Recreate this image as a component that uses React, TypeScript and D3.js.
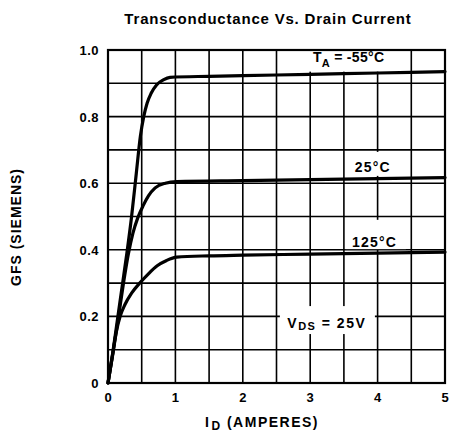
import React from "react";
import * as d3 from "d3";

// drain current (A) vs transconductance (S)
const idM55 = [0, 0.07, 0.14, 0.21, 0.28, 0.35, 0.42, 0.48, 0.53, 0.58, 0.64, 0.72, 0.82, 0.92, 1.5, 2, 3, 4, 5];
const gfsM55 = [0, 0.09, 0.19, 0.29, 0.39, 0.5, 0.63, 0.74, 0.8, 0.84, 0.87, 0.895, 0.91, 0.918, 0.921, 0.923, 0.927, 0.931, 0.935];

const id25 = [0, 0.07, 0.15, 0.23, 0.3, 0.37, 0.44, 0.52, 0.6, 0.7, 0.85, 1.02, 2, 3, 4, 5];
const gfs25 = [0, 0.085, 0.19, 0.3, 0.385, 0.45, 0.495, 0.532, 0.562, 0.586, 0.6, 0.605, 0.608, 0.611, 0.614, 0.617];

const id125 = [0, 0.06, 0.12, 0.18, 0.25, 0.35, 0.47, 0.6, 0.73, 0.87, 1.02, 1.5, 2, 3, 4, 5];
const gfs125 = [0, 0.075, 0.15, 0.2, 0.235, 0.27, 0.3, 0.328, 0.352, 0.368, 0.378, 0.382, 0.384, 0.387, 0.39, 0.393];

const xTicks = [0, 1, 2, 3, 4, 5];
const yTicks = [0, 0.2, 0.4, 0.6, 0.8, 1.0];
const yTickLabels = ["0", "0.2", "0.4", "0.6", "0.8", "1.0"];

const font = "'Liberation Sans', Arial, Helvetica, sans-serif";

export default function App() {
  const width = 451;
  const height = 436;
  const left = 108;
  const right = 445;
  const top = 50;
  const bottom = 383;

  const x = d3.scaleLinear().domain([0, 5]).range([left, right]);
  const y = d3.scaleLinear().domain([0, 1]).range([bottom, top]);

  const line = d3
    .line<[number, number]>()
    .x((d) => x(d[0]))
    .y((d) => y(d[1]))
    .curve(d3.curveMonotoneX);

  const series = [
    idM55.map((v, i) => [v, gfsM55[i]] as [number, number]),
    id25.map((v, i) => [v, gfs25[i]] as [number, number]),
    id125.map((v, i) => [v, gfs125[i]] as [number, number]),
  ];

  const vGrid = d3.range(0, 5.001, 0.5);
  const hGrid = d3.range(0, 1.0001, 0.1);

  // white boxes behind the annotations (data coords: x0, x1, y0, y1)
  const boxes = [
    [2.92, 4.38, 0.997, 0.935],
    [3.52, 4.42, 0.694, 0.622],
    [3.52, 4.42, 0.49, 0.402],
    [2.55, 3.96, 0.231, 0.147],
  ];

  return (
    <svg
      width={width}
      height={height}
      style={{ position: "absolute", left: 0, top: 0, background: "#fff" }}
      fontFamily={font}
      fontWeight="bold"
    >
      <rect width={width} height={height} fill="#fff" />

      <text x={268} y={24} textAnchor="middle" fontSize={15} letterSpacing={0.8}>
        Transconductance Vs. Drain Current
      </text>

      {vGrid.map((v) => (
        <line key={"v" + v} x1={x(v)} x2={x(v)} y1={y(0)} y2={y(1)} stroke="#000" strokeWidth={1.6} />
      ))}
      {hGrid.map((v) => (
        <line key={"h" + v} x1={x(0)} x2={x(5)} y1={y(v)} y2={y(v)} stroke="#000" strokeWidth={1.6} />
      ))}

      {boxes.map((b, i) => (
        <rect
          key={"b" + i}
          x={x(b[0])}
          y={y(b[2])}
          width={x(b[1]) - x(b[0])}
          height={y(b[3]) - y(b[2])}
          fill="#fff"
        />
      ))}

      {series.map((s, i) => (
        <path key={"s" + i} d={line(s) || ""} fill="none" stroke="#000" strokeWidth={3.2} strokeLinecap="round" strokeLinejoin="round" />
      ))}

      <rect
        x={x(0)}
        y={y(1)}
        width={x(5) - x(0)}
        height={y(0) - y(1)}
        fill="none"
        stroke="#000"
        strokeWidth={2.2}
      />

      {yTicks.map((v, i) => (
        <text key={"yt" + v} x={99} y={y(v) + 5} textAnchor="end" fontSize={13} letterSpacing={0.5}>
          {yTickLabels[i]}
        </text>
      ))}
      {xTicks.map((v) => (
        <text key={"xt" + v} x={x(v)} y={402} textAnchor="middle" fontSize={13}>
          {v}
        </text>
      ))}

      <text x={205} y={427} fontSize={14} letterSpacing={1.5}>
        <tspan>I</tspan>
        <tspan fontSize={12} dy={3} dx={1}>D</tspan>
        <tspan dy={-3}> (AMPERES)</tspan>
      </text>

      <text
        transform="translate(21,227) rotate(-90)"
        textAnchor="middle"
        fontSize={14}
        letterSpacing={1}
      >
        GFS (SIEMENS)
      </text>

      <text x={x(3.04)} y={y(0.964)} fontSize={14} letterSpacing={0.3}>
        <tspan>T</tspan>
        <tspan fontSize={11} dy={5}>A</tspan>
        <tspan dy={-5}> = -55°C</tspan>
      </text>
      <text x={x(3.66)} y={y(0.634)} fontSize={14} letterSpacing={1.2}>
        25°C
      </text>
      <text x={x(3.62)} y={y(0.408)} fontSize={14} letterSpacing={1.2}>
        125°C
      </text>
      <text x={x(2.66)} y={y(0.165)} fontSize={14} letterSpacing={1.5}>
        <tspan>V</tspan>
        <tspan fontSize={11} dy={2}>DS</tspan>
        <tspan dy={-2}> = 25V</tspan>
      </text>
    </svg>
  );
}
